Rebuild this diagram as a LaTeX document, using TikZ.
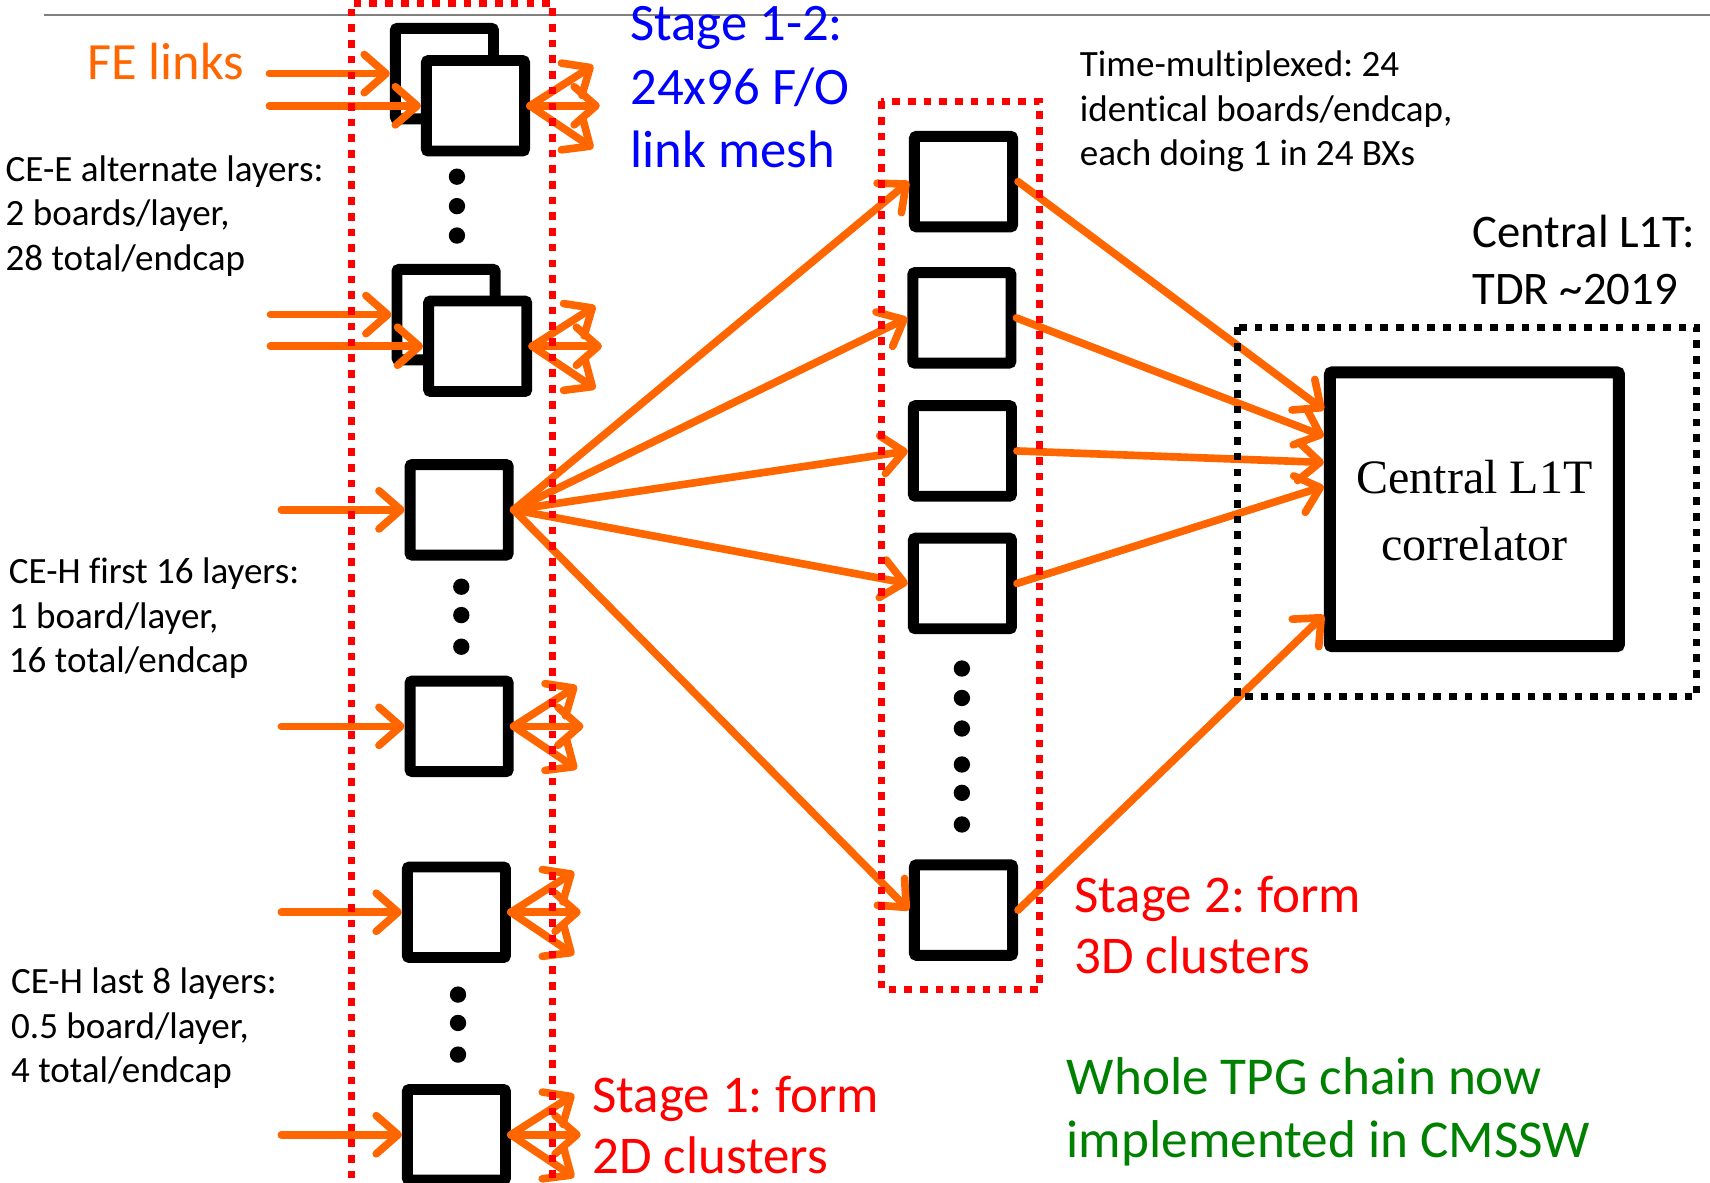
\documentclass[tikz,border=0pt]{standalone}
\usepackage{fontspec}
\setmainfont{Carlito}[Ligatures=NoCommon]
\newfontfamily\timesf{Liberation Serif}
\usetikzlibrary{arrows.meta}
\definecolor{lorange}{RGB}{255,102,0}
\definecolor{lblue}{RGB}{0,0,255}
\definecolor{lred}{RGB}{255,0,0}
\definecolor{lgreen}{RGB}{0,128,0}
\frenchspacing
\newcommand\lns[1]{\begin{tabular}[t]{@{}l@{}}#1\end{tabular}}
\newcommand\fanout[1]{%
  \draw[link] (#1.east) -- ++(58,-37);
  \draw[link] (#1.east) -- ++(64,0);
  \draw[link] (#1.east) -- ++(58,39);}
\begin{document}
\begin{tikzpicture}[x=1pt,y=-1pt,
  board/.style={draw=black, line width=10pt, fill=white, rounded corners=2pt,
    minimum width=90pt, minimum height=83pt, inner sep=0pt},
  link/.style={draw=lorange, line width=7pt, line cap=round,
    -{Straight Barb[length=20pt,width=35pt,round]}},
  reddot/.style={draw=lred, line width=6.5pt, dash pattern=on 7pt off 7.4pt},
  blkdot/.style={draw=black, line width=6.5pt, dash pattern=on 7pt off 7.4pt},
  smalltxt/.style={anchor=base west, inner sep=0pt, font=\fontsize{34}{41}\selectfont},
  bigtxt/.style={anchor=base west, inner sep=0pt},
  dot/.style={fill=black}
]
\useasboundingbox (0,0) rectangle (1568,1084);
\fill[white] (0,0) rectangle (1568,1084);
% top rule
\draw[gray, line width=2pt] (40,14) -- (1568,14);

% stage 1 boards
\node[board] (bk1) at (407.5,67.5) {};
\node[board] (fr1) at (436,97) {};
\node[board] (bk2) at (409,288.5) {};
\node[board] (fr2) at (438,317.5) {};
\node[board] (ba) at (421,467.5) {};
\node[board] (bb) at (421,666) {};
\node[board] (bc) at (418.5,836.5) {};
\node[board] (bd) at (418.5,1040.5) {};

% stage 2 boards
\node[board] (s1) at (883.5,166.5) {};
\node[board] (s2) at (882,291.5) {};
\node[board] (s3) at (882.5,413.5) {};
\node[board] (s4) at (882.5,535) {};
\node[board] (s5) at (883.5,834.5) {};

% central correlator
\node[draw=black, line width=11pt, rounded corners=2pt, minimum width=265pt,
  minimum height=251pt, inner sep=0pt,
  font=\timesf\fontsize{44}{62}\selectfont] (cen) at (1352,467)
  {\begin{tabular}{@{}c@{}}\rule{0pt}{51.4pt}Central L1T\\correlator\end{tabular}};

% dots
\foreach \yy in {162,189,216} \fill[dot] (419,\yy) circle[radius=7.5pt];
\foreach \yy in {538,564,593} \fill[dot] (423,\yy) circle[radius=7.5pt];
\foreach \yy in {912,938,967} \fill[dot] (420,\yy) circle[radius=7.5pt];
\foreach \yy in {613,640,668,701,727,756} \fill[dot] (882,\yy) circle[radius=7.5pt];

% input links
\coordinate (i1) at (247,67.5);
\coordinate (i2) at (247,97);
\coordinate (i3) at (248,288.5);
\coordinate (i4) at (248,317.5);
\coordinate (i5) at (258,467.5);
\coordinate (i6) at (258,666);
\coordinate (i7) at (258,836.5);
\coordinate (i8) at (258,1040.5);
\draw[link] (i1) -- (bk1.west);
\draw[link] (i2) -- (fr1.west);
\draw[link] (i3) -- (bk2.west);
\draw[link] (i4) -- (fr2.west);
\draw[link] (i5) -- (ba.west);
\draw[link] (i6) -- (bb.west);
\draw[link] (i7) -- (bc.west);
\draw[link] (i8) -- (bd.west);

% local fan-outs
\fanout{fr1}
\fanout{fr2}
\fanout{bb}
\fanout{bc}
\fanout{bd}

% fan-out to stage 2
\foreach \s in {s1,s2,s3,s4,s5} \draw[link] (ba.east) -- (\s.west);

% stage 2 to central
\draw[link] (s1.east) -- ([yshift=91pt]cen.west);
\draw[link] (s2.east) -- ([yshift=67pt]cen.west);
\draw[link] (s3.east) -- ([yshift=43pt]cen.west);
\draw[link] (s4.east) -- ([yshift=21pt]cen.west);
\draw[link] (s5.east) -- ([yshift=-97pt]cen.west);

% dotted frames
\draw[reddot] (322,1095) -- (322,3) -- (507,3) -- (507,1095);
\draw[reddot] (808,93) rectangle (953,907);
\draw[blkdot] (1135,300) rectangle (1556,639);

% texts
\node[bigtxt, text=lorange, font=\fontsize{48}{59}\selectfont] (fe) at (80,73) {FE links};
\node[bigtxt, text=lblue, font=\fontsize{48.3}{58.5}\selectfont] (st12) at (578,37)
  {\lns{Stage 1-2:\\24x96 F/O\\link mesh}};
\node[smalltxt] (cee) at (5,166) {\lns{CE-E alternate layers:\\2 boards/layer,\\28 total/endcap}};
\node[smalltxt] (ceh1) at (8,535) {\lns{CE-H first 16 layers:\\1 board/layer,\\16 total/endcap}};
\node[smalltxt] (ceh2) at (10,911) {\lns{CE-H last 8 layers:\\0.5 board/layer,\\4 total/endcap}};
\node[smalltxt] (tm) at (990,70) {\lns{Time-multiplexed: 24\\identical boards/endcap,\\each doing 1 in 24 BXs}};
\node[bigtxt, font=\fontsize{42.8}{52}\selectfont] (cl1t) at (1350,227)
  {\lns{Central L1T:\\TDR \textasciitilde 2019}};
\node[bigtxt, text=lred, font=\fontsize{48.6}{56}\selectfont] (st2) at (985,837)
  {\lns{Stage 2: form\\3D clusters}};
\node[bigtxt, text=lred, font=\fontsize{48.6}{56}\selectfont] (st1) at (543,1020)
  {\lns{Stage 1: form\\2D clusters}};
\node[bigtxt, text=lgreen, font=\fontsize{48.8}{57}\selectfont] (wh) at (978,1004)
  {\lns{Whole TPG chain now\\implemented in CMSSW}};
\end{tikzpicture}
\end{document}
